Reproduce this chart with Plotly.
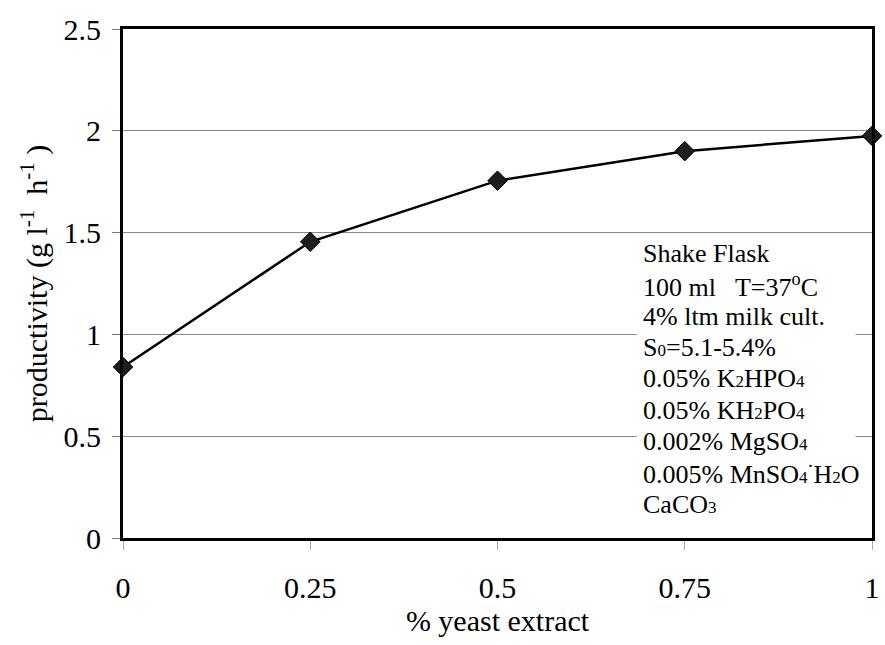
import plotly.graph_objects as go

# Yeast extract concentration (%) and measured productivity (g l^-1 h^-1)
yeast_extract = [0, 0.25, 0.5, 0.75, 1.0]
productivity = [0.84, 1.455, 1.755, 1.90, 1.975]

x_ticks = [0, 0.25, 0.5, 0.75, 1]
x_tick_labels = ["0", "0.25", "0.5", "0.75", "1"]
y_ticks = [0, 0.5, 1, 1.5, 2, 2.5]
y_tick_labels = ["0", "0.5", "1", "1.5", "2", "2.5"]

SUB = "<span style='font-size:17px'>{}</span>"
conditions = [
    "Shake Flask",
    "100 ml   T=37<sup>o</sup>C",
    "4% ltm milk cult.",
    "S" + SUB.format("0") + "=5.1-5.4%",
    "0.05% K" + SUB.format("2") + "HPO" + SUB.format("4"),
    "0.05% KH" + SUB.format("2") + "PO" + SUB.format("4"),
    "0.002% MgSO" + SUB.format("4"),
    "0.005% MnSO" + SUB.format("4") + "<sup>·</sup>H" + SUB.format("2") + "O",
    "CaCO" + SUB.format("3"),
]

FONT = "Liberation Serif, Times New Roman, serif"

fig = go.Figure()
fig.add_trace(go.Scatter(
    x=yeast_extract,
    y=productivity,
    mode="lines+markers",
    line=dict(color="black", width=2.5),
    marker=dict(symbol="diamond", size=15, color="#1e1e1e",
                line=dict(color="black", width=1)),
    cliponaxis=False,
    showlegend=False,
))

# white panel behind the culture-conditions legend (hides the gridlines)
fig.add_shape(
    type="rect", xref="x", yref="y",
    x0=0.686, x1=0.978, y0=0.09, y1=1.46,
    fillcolor="white", line=dict(width=0), layer="between",
)

# culture conditions, one line per annotation
line_top = 1.395
line_step = 0.1535
for i, txt in enumerate(conditions):
    fig.add_annotation(
        x=0.691, y=line_top - i * line_step, xref="x", yref="y",
        xanchor="left", yanchor="middle",
        text=txt, align="left", showarrow=False,
        font=dict(family=FONT, size=26, color="black"),
    )

fig.update_layout(
    width=885, height=645,
    margin=dict(l=123, r=5, t=29, b=107),
    paper_bgcolor="white", plot_bgcolor="white",
    font=dict(family=FONT, size=30, color="black"),
    xaxis=dict(
        range=[0, 1],
        tickvals=x_ticks, ticktext=x_tick_labels,
        ticks="outside", ticklen=9, tickcolor="#aaaaaa", tickwidth=1,
        ticklabelstandoff=12,
        showgrid=False, zeroline=False,
        showline=True, linecolor="black", linewidth=3, mirror=True,
        title=dict(text="% yeast extract", font=dict(family=FONT, size=30), standoff=6),
        tickfont=dict(family=FONT, size=30),
    ),
    yaxis=dict(
        range=[0, 2.5],
        tickvals=y_ticks, ticktext=y_tick_labels,
        ticks="outside", ticklen=8, tickcolor="#777777", tickwidth=1,
        ticklabelstandoff=5,
        showgrid=True, gridcolor="#8a8a8a", gridwidth=1,
        zeroline=False,
        showline=True, linecolor="black", linewidth=3, mirror=True,
        title=dict(text="productivity (g l<sup>-1</sup>  h<sup>-1</sup> )",
                   font=dict(family=FONT, size=30), standoff=8),
        tickfont=dict(family=FONT, size=30),
    ),
)

fig.write_html("out.html")
